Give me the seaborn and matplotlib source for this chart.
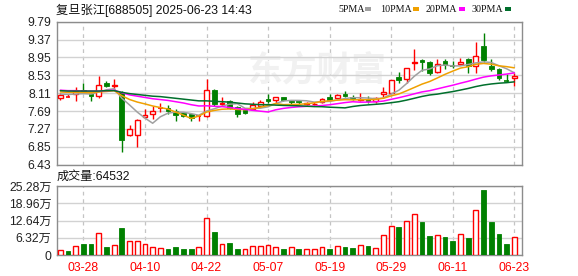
import numpy as np
import pandas as pd
import matplotlib
matplotlib.use("Agg")
import matplotlib.pyplot as plt
import seaborn as sns
from matplotlib.patches import Rectangle

sns.set_style("white")
plt.rcParams['font.family'] = ['Liberation Sans', 'Noto Sans CJK SC']

# ---------------- data ----------------
opens = [7.99, 8.02, 8.09, 8.18, 8.10, 8.05, 8.34, 8.28, 8.13, 7.13,
         7.13, 7.54, 7.62, 7.75, 7.76, 7.69, 7.64, 7.62, 7.56, 7.58,
         8.19, 7.85, 7.92, 7.79, 7.71, 7.73, 7.81, 7.97, 7.94, 8.02,
         7.93, 7.93, 7.85, 7.85, 7.895, 8.02, 8.00, 8.10, 8.03, 7.95,
         7.97, 7.92, 8.08, 8.12, 8.49, 8.45, 8.81, 8.88, 8.84, 8.61,
         8.87, 8.745, 8.79, 8.91, 8.76, 9.22, 8.74, 8.67, 8.40, 8.46]
highs = [8.12, 8.10, 8.25, 8.35, 8.12, 8.51, 8.39, 8.45, 8.15, 7.36,
         7.51, 7.74, 7.81, 7.88, 7.84, 7.75, 7.67, 7.63, 7.59, 8.44,
         8.21, 8.01, 7.94, 7.81, 7.75, 7.90, 7.94, 8.08, 8.03, 8.03,
         7.96, 7.96, 7.91, 7.91, 7.99, 8.08, 8.10, 8.16, 8.06, 8.11,
         8.05, 8.01, 8.26, 8.43, 8.61, 8.71, 9.15, 8.91, 8.875, 8.92,
         8.91, 8.875, 8.935, 8.935, 9.32, 9.53, 8.91, 8.705, 8.55, 8.59]
lows = [7.95, 8.01, 7.92, 8.11, 7.92, 7.99, 8.26, 8.22, 6.74, 7.11,
        6.84, 7.52, 7.50, 7.67, 7.62, 7.46, 7.54, 7.455, 7.46, 7.56,
        7.82, 7.81, 7.75, 7.55, 7.63, 7.71, 7.79, 7.87, 7.89, 7.92,
        7.86, 7.86, 7.83, 7.83, 7.87, 7.93, 7.98, 8.01, 7.94, 7.93,
        7.88, 7.89, 8.03, 8.11, 8.36, 8.34, 8.65, 8.64, 8.53, 8.59,
        8.69, 8.705, 8.77, 8.59, 8.59, 8.84, 8.64, 8.42, 8.37, 8.28]
closes = [8.07, 8.03, 8.17, 8.13, 8.05, 8.31, 8.29, 8.30, 7.00, 7.27,
          7.47, 7.59, 7.69, 7.76, 7.70, 7.59, 7.57, 7.53, 7.57, 8.19,
          7.86, 7.87, 7.77, 7.63, 7.65, 7.83, 7.91, 7.93, 8.02, 7.94,
          7.905, 7.905, 7.89, 7.865, 7.975, 7.96, 8.07, 8.05, 7.97, 7.97,
          7.92, 7.99, 8.14, 8.43, 8.42, 8.70, 8.85, 8.84, 8.59, 8.80,
          8.78, 8.74, 8.85, 8.75, 8.99, 8.90, 8.67, 8.47, 8.39, 8.52]
# volume in 万 (10k)
volumes = [1.73, 1.36, 3.33, 4.07, 4.07, 8.01, 2.96, 3.58, 9.99, 5.06,
           5.06, 3.95, 2.84, 2.47, 2.22, 2.96, 2.22, 2.22, 2.84, 13.56,
           8.51, 3.95, 4.44, 2.22, 2.10, 3.21, 3.21, 3.58, 2.84, 2.22,
           2.96, 2.22, 2.10, 2.10, 2.96, 2.22, 3.33, 2.96, 2.59, 3.58,
           3.33, 2.59, 7.27, 10.60, 10.36, 12.45, 15.04, 12.20, 7.03, 7.27,
           6.66, 5.18, 7.64, 6.41, 16.52, 23.67, 12.20, 7.77, 4.07, 6.4532]
vol_up = [1, 0, 1, 0, 0, 1, 0, 1, 0, 1, 1, 1, 1, 1, 0, 0, 0, 0, 1, 1,
          0, 1, 0, 0, 1, 1, 1, 1, 1, 0, 1, 0, 1, 1, 1, 0, 1, 0, 0, 1,
          0, 1, 1, 1, 0, 1, 1, 0, 0, 1, 0, 0, 1, 0, 1, 0, 0, 0, 0, 1]

# moving averages before their window is full
ma5_head = [8.09, 8.08, 8.09, 8.10]
ma10_head = [8.14, 8.13, 8.13, 8.13, 8.12, 8.14, 8.15, 8.17, 8.05]
ma20_head = [8.18, 8.17, 8.17, 8.16, 8.16, 8.16, 8.17, 8.18, 8.12, 8.07,
             8.04, 8.01, 7.98, 7.96, 7.94, 7.91, 7.88, 7.84, 7.81]
ma30_head = [8.17, 8.16, 8.16, 8.16, 8.16, 8.16, 8.17, 8.17, 8.13, 8.10,
             8.08, 8.06, 8.04, 8.03, 8.01, 7.99, 7.97, 7.95, 7.93, 7.93,
             7.92, 7.91, 7.90, 7.88, 7.86, 7.85, 7.84, 7.84, 7.83]

date_pos = [3, 11, 19, 27, 35, 43, 51, 59]
date_labels = ['03-28', '04-10', '04-22', '05-07', '05-19', '05-29', '06-11', '06-23']
price_ticks = [6.43, 6.85, 7.27, 7.69, 8.11, 8.53, 8.95, 9.37, 9.79]
vol_ticks = [0, 6.32, 12.64, 18.96, 25.28]
vol_tick_labels = ['0', '6.32万', '12.64万', '18.96万', '25.28万']
ma_names = ['5PMA', '10PMA', '20PMA', '30PMA']
ma_colors = ['#a0a0a0', '#f0a000', '#ff00ff', '#006f2c']
title = '复旦张江[688505] 2025-06-23 14:43'
vol_title = '成交量:64532'

# ---------------- build frame ----------------
n = len(closes)
df = pd.DataFrame({'i': np.arange(n), 'open': opens, 'high': highs,
                   'low': lows, 'close': closes, 'vol': volumes, 'vup': vol_up})
for win, head, name in [(5, ma5_head, 'ma5'), (10, ma10_head, 'ma10'),
                        (20, ma20_head, 'ma20'), (30, ma30_head, 'ma30')]:
    s = df['close'].rolling(win).mean()
    s.iloc[:len(head)] = head
    df[name] = s

RED = '#ff0000'
GREEN = '#008000'
W, H = 578, 276
fig = plt.figure(figsize=(W / 100, H / 100), dpi=100)
fig.patch.set_facecolor('white')

def fx(px):
    return px / W

def fy(py):
    return 1 - py / H

ax = fig.add_axes([fx(57), fy(164.7), (522 - 57) / W, (164.7 - 21.7) / H])
axv = fig.add_axes([fx(57), fy(255), (522 - 57) / W, (255 - 186) / H])

spine_c = '#8c8c8c'
grid_c = '#d2d2d2'
for a in (ax, axv):
    for sp in a.spines.values():
        sp.set_color(spine_c)
        sp.set_linewidth(1.0)
    a.set_xlim(-0.43, 60.0)
    a.set_axisbelow(True)
    a.set_xticks(date_pos)
    for p in date_pos:
        a.axvline(p, color='#c4c4c4', lw=0.9, ls=(0, (3, 3)), zorder=0)
    a.tick_params(axis='both', length=0)

# watermark
ax.text(0.56, 0.66, '东方财富', transform=ax.transAxes, fontsize=25,
        color='#f1f1f1', ha='center', va='center', fontweight='bold',
        family=['Noto Sans CJK SC'], zorder=0)

# price grid
ax.set_ylim(6.43, 9.79)
ax.set_yticks(price_ticks)
ax.set_yticklabels(['%.2f' % t for t in price_ticks], fontsize=8.7, color='#222222')
ax.yaxis.grid(True, color=grid_c, lw=1.0)
ax.tick_params(axis='y', pad=4)
ax.set_xticklabels([])

bw = 0.62
for r in df.itertuples():
    up = r.close >= r.open
    col = RED if up else GREEN
    lo_b, hi_b = min(r.open, r.close), max(r.open, r.close)
    if hi_b - lo_b < 0.012:
        ax.vlines(r.i, r.low, r.high, color=col, lw=1.0, zorder=3)
        ax.hlines((lo_b + hi_b) / 2, r.i - bw / 2, r.i + bw / 2, color=col, lw=1.2, zorder=3)
        continue
    ax.vlines(r.i, r.low, lo_b, color=col, lw=1.0, zorder=3)
    ax.vlines(r.i, hi_b, r.high, color=col, lw=1.0, zorder=3)
    if up:
        ax.add_patch(Rectangle((r.i - bw / 2, lo_b), bw, hi_b - lo_b,
                               facecolor='white', edgecolor=RED, lw=1.0, zorder=4))
    else:
        ax.add_patch(Rectangle((r.i - bw / 2, lo_b), bw, hi_b - lo_b,
                               facecolor=GREEN, edgecolor=GREEN, lw=0.6, zorder=4))

for name, c in zip(['ma5', 'ma10', 'ma20', 'ma30'], ma_colors):
    sns.lineplot(data=df, x='i', y=name, ax=ax, color=c, lw=1.1, zorder=5)
ax.set_xlabel('')
ax.set_ylabel('')

# volume panel
axv.set_ylim(0, 25.28)
axv.set_yticks(vol_ticks)
axv.set_yticklabels(vol_tick_labels, fontsize=8.7, color='#222222')
axv.yaxis.grid(True, color=grid_c, lw=1.0)
axv.tick_params(axis='y', pad=4)
axv.set_xticklabels(date_labels, fontsize=8.7, color=RED)
axv.tick_params(axis='x', pad=5)
for r in df.itertuples():
    if r.vup:
        axv.add_patch(Rectangle((r.i - bw / 2, 0), bw, r.vol, facecolor='white',
                                edgecolor=RED, lw=1.0, zorder=3))
    else:
        axv.add_patch(Rectangle((r.i - bw / 2, 0), bw, r.vol, facecolor=GREEN,
                                edgecolor=GREEN, lw=0.6, zorder=3))

# texts
fig.text(fx(56), fy(10), title, fontsize=8.8, color='#111111', ha='left', va='center')
fig.text(fx(57), fy(177), vol_title, fontsize=8.7, color='#111111', ha='left', va='center')

leg_x = [338, 380, 426, 472]
rect_x = [365, 413, 459, 505]
for nm, c, tx, rx in zip(ma_names, ma_colors, leg_x, rect_x):
    fig.text(fx(tx), fy(9.5), nm, fontsize=7.2, color='#111111', ha='left', va='center',
             family=['Liberation Serif'])
    fig.patches.append(Rectangle((fx(rx), fy(11)), 6 / W, 4 / H, transform=fig.transFigure,
                                 facecolor=c, edgecolor='none', figure=fig))

fig.savefig('out.png', dpi=100, facecolor='white')
